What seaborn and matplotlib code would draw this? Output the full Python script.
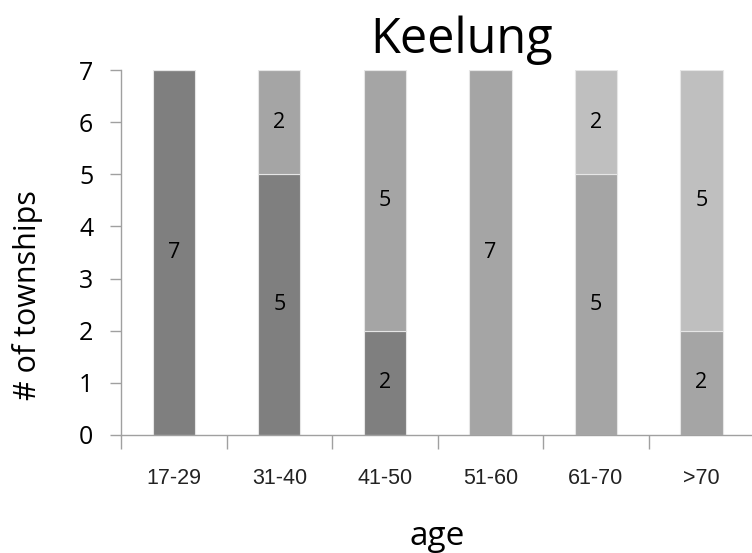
import numpy as np
import pandas as pd
import matplotlib
matplotlib.use("Agg")
import matplotlib.pyplot as plt
import seaborn as sns

# data
ages = ["17-29", "31-40", "41-50", "51-60", "61-70", ">70"]
dark_counts = [7, 5, 2, 0, 0, 0]
mid_counts = [0, 2, 5, 7, 5, 2]
light_counts = [0, 0, 0, 0, 2, 5]
title = "Keelung"

sns.set_theme(style="white")
plt.rcParams["font.family"] = ["Open Sans", "DejaVu Sans"]

layers = [
    (dark_counts, "#7f7f7f"),
    (mid_counts, "#a5a5a5"),
    (light_counts, "#bfbfbf"),
]

fig = plt.figure(figsize=(7.52, 5.53), dpi=100)
ax = fig.add_axes([0.161, 0.2134, 0.842, 0.66])

bottom = np.zeros(len(ages))
for counts, colour in layers:
    df = pd.DataFrame({"age": ages, "n": counts})
    sns.barplot(data=df, x="age", y="n", color=colour, width=0.4,
                bottom=bottom, edgecolor="#e6e6e6", linewidth=0.8,
                saturation=1, ax=ax)
    for i, v in enumerate(counts):
        if v > 0:
            ax.text(i, bottom[i] + v / 2, str(v), ha="center", va="center",
                    fontsize=15.5, color="black")
    bottom = bottom + np.array(counts)

ax.set_xlim(-0.5, 5.5)
ax.set_ylim(0, 7)
ax.set_yticks(range(8))
# tick marks sit between the categories, labels under the bars
ax.set_xticks(np.arange(-0.5, 6, 1))
ax.set_xticklabels([])
ax.set_xticks(range(6), minor=True)
ax.set_xticklabels(ages, minor=True)
ax.tick_params(bottom=True, left=True, which="both")
ax.tick_params(axis="x", which="major", length=10, width=1, color="#a0a0a0")
ax.tick_params(axis="x", which="minor", length=0, pad=24, labelsize=15.5,
               labelcolor="#222222")
ax.tick_params(axis="y", length=8, width=1, color="#a0a0a0", labelsize=18,
               labelcolor="black", pad=12)
for lbl in ax.get_xticklabels(minor=True):
    lbl.set_fontfamily(["Liberation Sans", "DejaVu Sans"])

for s in ["top", "right"]:
    ax.spines[s].set_visible(False)
for s in ["left", "bottom"]:
    ax.spines[s].set_color("#a0a0a0")
    ax.spines[s].set_linewidth(1)

ax.set_xlabel("age", fontsize=24, labelpad=22, color="black")
ax.set_ylabel("# of townships", fontsize=22, color="black")
ax.yaxis.set_label_coords(-0.124, 0.384)
ax.set_title(title, fontsize=35, pad=12, x=0.537, color="black")

fig.savefig("out.png", dpi=100)
